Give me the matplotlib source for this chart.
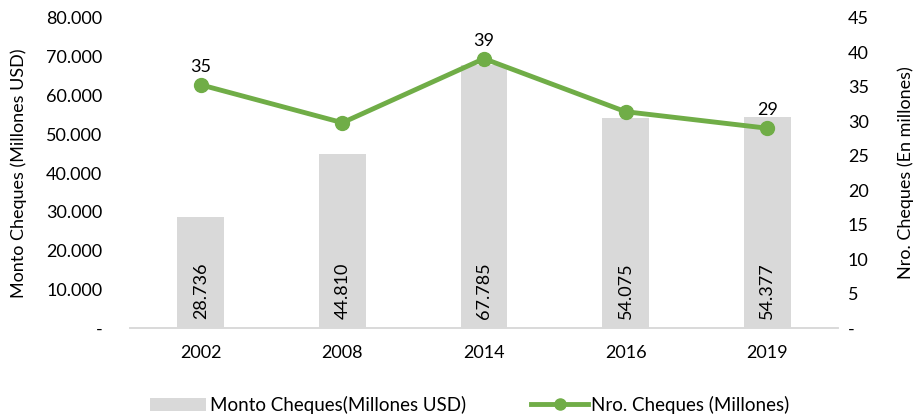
import matplotlib
matplotlib.use("Agg")
import matplotlib.pyplot as plt
from matplotlib.ticker import FuncFormatter

years = ["2002", "2008", "2014", "2016", "2019"]
monto = [28736, 44810, 67785, 54075, 54377]
nro = [35.3, 29.8, 39.1, 31.4, 29.0]
nro_labels = ["35", "", "39", "", "29"]

plt.rcParams['font.family'] = ['Lato', 'DejaVu Sans']
fs = 12.5

fig = plt.figure(figsize=(9.21, 4.2), dpi=100)
ax = fig.add_axes([130/921, 1-328/420, (838-130)/921, (328-18)/420])
ax2 = ax.twinx()

x = list(range(len(years)))
ax.bar(x, monto, width=0.33, color="#d9d9d9", label="Monto Cheques(Millones USD)", zorder=1)
for xi, v in zip(x, monto):
    s = f"{v:,}".replace(",", ".")
    ax.text(xi, 2300, s, rotation=90, ha="center", va="bottom", fontsize=13, color="#000000")

ax.set_xlim(-0.5, len(years) - 0.5)
ax.set_ylim(0, 80000)
ax.set_yticks(range(0, 80001, 10000))
ax.yaxis.set_major_formatter(FuncFormatter(lambda v, p: "-" if v == 0 else f"{int(v):,}".replace(",", ".")))
ax.set_xticks(x)
ax.set_xticklabels(years)

ax2.plot(x, nro, color="#70ad47", linewidth=3.5, marker="o", markersize=10, label="Nro. Cheques (Millones)", zorder=3)
for xi, v, l in zip(x, nro, nro_labels):
    if l:
        ax2.annotate(l, (xi, v), xytext=(0, 7), textcoords="offset points", ha="center", va="bottom", fontsize=13)
ax2.set_ylim(0, 45)
ax2.set_yticks(range(0, 46, 5))
ax2.yaxis.set_major_formatter(FuncFormatter(lambda v, p: "-" if v == 0 else f"{int(v)}"))

for a in (ax, ax2):
    for side in ("top", "left", "right"):
        a.spines[side].set_visible(False)
    a.spines["bottom"].set_color("#d9d9d9")
    a.spines["bottom"].set_linewidth(1.2)
    a.tick_params(length=0, labelsize=13, colors="#000000")
ax.tick_params(axis="x", pad=12)
ax.tick_params(axis="y", pad=20)
ax2.tick_params(axis="y", pad=7)

ax.set_ylabel("Monto Cheques (Millones USD)", fontsize=13)
ax2.set_ylabel("Nro. Cheques (En millones)", fontsize=13)
ax.yaxis.set_label_coords((27 - 130) / 708, 0.5)
ax2.yaxis.set_label_coords((897 - 130) / 708, 0.5)

h1, l1 = ax.get_legend_handles_labels()
h2, l2 = ax2.get_legend_handles_labels()
fig.legend(h1 + h2, l1 + l2, loc="lower center", bbox_to_anchor=(0.51, -0.025), ncol=2, frameon=False,
           fontsize=13.5, handlelength=3.0, columnspacing=3.5, handletextpad=0.2, markerscale=0.8)

fig.savefig("out.png", dpi=100)
